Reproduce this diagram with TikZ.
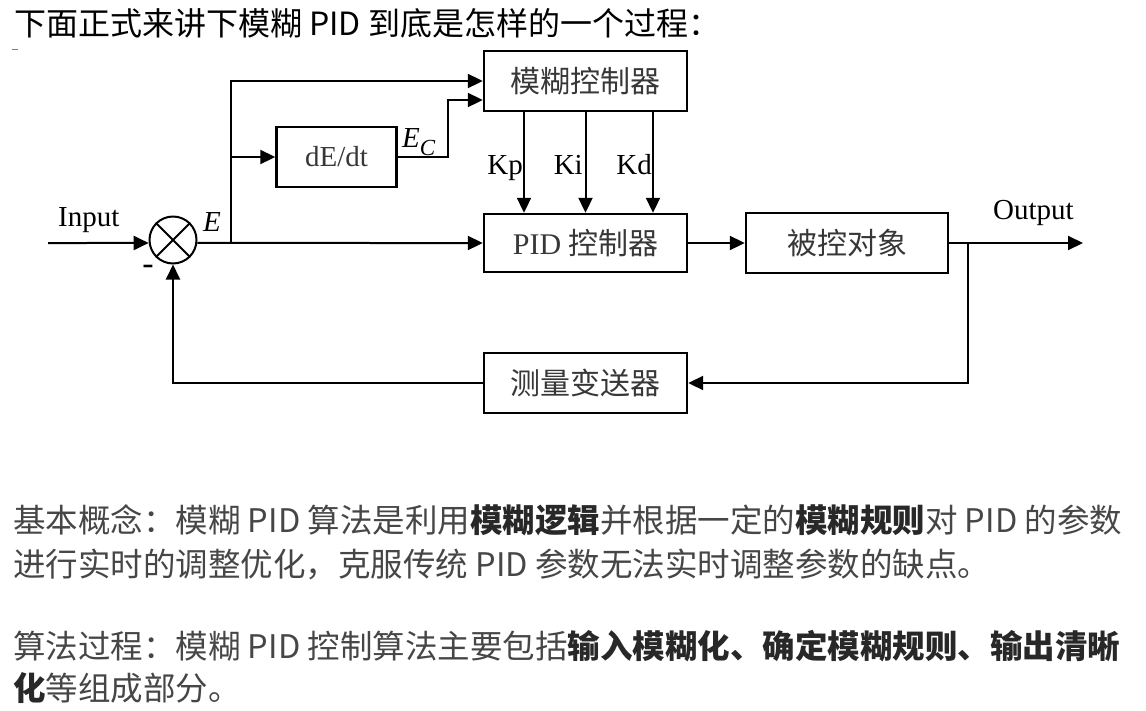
\documentclass[tikz,border=0pt]{standalone}
\usepackage{fontspec}
\setmainfont{Noto Sans CJK SC}
\newfontfamily\tnr{Liberation Serif}
\usetikzlibrary{arrows.meta, positioning, calc}
\definecolor{textgray}{RGB}{70, 70, 70}
\definecolor{boldgray}{RGB}{40, 40, 40}
\definecolor{boxtext}{RGB}{55, 55, 55}
\newcommand{\keyterm}[1]{\textcolor{boldgray}{\textbf{#1}}}

\begin{document}
\begin{tikzpicture}[x=1pt, y=-1pt,
  block/.style={draw, line width=2.4pt, minimum width=203pt, minimum height=60pt, inner sep=0pt,
    font=\fontsize{30}{34}\selectfont, text=boxtext},
  sig/.style={line width=2pt, -{Triangle[length=15pt, width=14pt]}},
  wire/.style={line width=2pt},
  lbl/.style={font=\tnr\fontsize{29}{34}\selectfont, inner sep=0pt},
  para/.style={anchor=base west, inner sep=0pt, font=\fontsize{32.5}{40}\selectfont, text=textgray}]
  \useasboundingbox (0,0) rectangle (1146,710);

  % heading
  \node[anchor=base west, inner sep=0pt, font=\fontsize{32}{36}\selectfont] (title) at (14,35)
    {下面正式来讲下模糊 PID 到底是怎样的一个过程：};
  \draw[gray, line width=1pt] (12,49) -- (18,49);

  % blocks
  \node[block] (fuzzy) at (585.5,81) {模糊控制器};
  \node[block, minimum height=58pt] (pid) at (585.5,243) {{\tnr PID} 控制器};
  \node[block, minimum width=202pt] (plant) at (847,243) {被控对象};
  \node[block] (sensor) at (585.5,383) {测量变送器};
  \node[block, minimum width=120pt, font=\tnr\fontsize{29}{34}\selectfont] (ddt) at (336.5,157) {dE/dt};
  \node[circle, draw, line width=2pt, minimum size=47pt, inner sep=0pt] (sum) at (173,240) {};
  \draw[wire] (sum.45) -- (sum.225) (sum.135) -- (sum.315);

  \coordinate (in) at (48,243);
  \coordinate (br) at (231,243);
  \coordinate (fb) at (968,243);
  \coordinate (out) at (1083,243);

  % forward path
  \draw[sig] (in) -- (sum.187);
  \draw[sig] (sum.-7) -- (pid.west);
  \draw[sig] (br) |- (fuzzy.west);
  \draw[sig] (br |- ddt.west) -- (ddt.west);
  \draw[sig] (ddt.east) -- ++(50,0) |- ([yshift=-19pt]fuzzy.west);
  \draw[sig] ([xshift=-61.5pt]fuzzy.south) -- ([xshift=-61.5pt]pid.north);
  \draw[sig] (fuzzy.south) -- (pid.north);
  \draw[sig] ([xshift=67.5pt]fuzzy.south) -- ([xshift=67.5pt]pid.north);
  \draw[sig] (pid.east) -- (plant.west);
  \draw[sig] (plant.east) -- (out);

  % feedback
  \draw[sig] (fb) |- (sensor.east);
  \draw[sig] (sensor.west) -| (sum.south);

  % labels
  \node[lbl, anchor=base west] (inlbl) at (58,226) {Input};
  \node[lbl, anchor=base west] (outlbl) at (993,219) {Output};
  \node[lbl, anchor=base west] (elbl) at (203,231) {\itshape E};
  \node[lbl, anchor=base west] (eclbl) at (402,147)
    {\itshape E\raisebox{-0.3em}{\fontsize{23}{23}\selectfont C}};
  \node[lbl, anchor=base, font=\tnr\fontsize{34}{34}\selectfont] (minus) at (148,274) {-};
  \node[lbl, anchor=base east] (kp) at (523,174) {Kp};
  \node[lbl, anchor=base east] (ki) at (583,174) {Ki};
  \node[lbl, anchor=base east] (kd) at (652,174) {Kd};

  % text below
  \node[para] (line1) at (13,532)
    {基本概念：模糊 PID 算法是利用\keyterm{模糊逻辑}并根据一定的\keyterm{模糊规则}对 PID 的参数};
  \node[para] (line2) at (13,576)
    {进行实时的调整优化，克服传统 PID 参数无法实时调整参数的缺点。};
  \node[para] (line3) at (13,658)
    {算法过程：模糊 PID 控制算法主要包括\keyterm{输入模糊化、确定模糊规则、输出清晰}};
  \node[para] (line4) at (13,700)
    {\keyterm{化}等组成部分。};
\end{tikzpicture}
\end{document}
